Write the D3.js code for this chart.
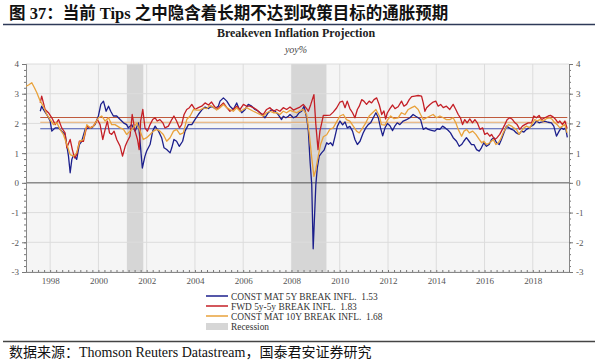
<!DOCTYPE html>
<html><head><meta charset="utf-8">
<script src="https://cdn.jsdelivr.net/npm/d3@7"></script>
<style>body{margin:0;background:#fff}svg{display:block}</style>
</head><body>
<svg id="c" width="600" height="360"></svg>
<script>
// ---- data ----
const dates5y=[1997.59,1997.65,1997.72,1997.86,1998.00,1998.07,1998.21,1998.35,1998.48,1998.62,1998.76,1998.83,1998.90,1998.97,1999.10,1999.21,1999.31,1999.45,1999.59,1999.73,1999.86,2000.00,2000.10,2000.21,2000.32,2000.42,2000.51,2000.62,2000.76,2000.90,2001.04,2001.17,2001.24,2001.38,2001.52,2001.66,2001.73,2001.82,2001.93,2002.00,2002.14,2002.25,2002.35,2002.49,2002.62,2002.72,2002.83,2002.97,2003.04,2003.13,2003.24,2003.35,2003.49,2003.59,2003.73,2003.87,2004.00,2004.14,2004.28,2004.42,2004.56,2004.69,2004.83,2004.97,2005.04,2005.18,2005.32,2005.45,2005.59,2005.73,2005.84,2005.94,2006.08,2006.21,2006.35,2006.49,2006.63,2006.77,2006.90,2007.04,2007.18,2007.32,2007.45,2007.59,2007.66,2007.77,2007.87,2007.94,2008.08,2008.21,2008.32,2008.42,2008.52,2008.63,2008.70,2008.77,2008.84,2008.90,2009.01,2009.07,2009.15,2009.25,2009.35,2009.46,2009.53,2009.62,2009.71,2009.80,2009.90,2010.01,2010.12,2010.22,2010.31,2010.42,2010.53,2010.63,2010.73,2010.84,2010.97,2011.08,2011.18,2011.28,2011.39,2011.50,2011.60,2011.69,2011.78,2011.88,2011.98,2012.08,2012.19,2012.29,2012.38,2012.49,2012.63,2012.77,2012.91,2013.04,2013.15,2013.25,2013.35,2013.46,2013.57,2013.67,2013.80,2013.94,2014.04,2014.15,2014.26,2014.37,2014.49,2014.59,2014.70,2014.84,2014.95,2015.05,2015.14,2015.25,2015.36,2015.46,2015.56,2015.67,2015.78,2015.87,2015.97,2016.08,2016.19,2016.29,2016.39,2016.50,2016.61,2016.70,2016.80,2016.91,2017.02,2017.12,2017.21,2017.32,2017.43,2017.53,2017.63,2017.74,2017.85,2017.94,2018.04,2018.15,2018.26,2018.35,2018.49,2018.63,2018.77,2018.87,2018.98,2019.09,2019.18,2019.28,2019.36,2019.43];
const vals5y=[2.41,2.58,2.47,2.30,2.08,1.74,1.85,1.85,1.74,1.63,0.90,0.34,0.79,0.95,0.79,1.29,1.40,1.80,1.85,1.85,1.96,2.25,2.64,2.75,2.41,2.58,2.41,2.25,2.25,2.13,2.02,1.96,1.85,1.96,1.74,2.02,1.35,0.50,0.90,1.07,1.29,1.74,1.91,1.74,1.52,1.18,1.12,1.01,1.18,1.46,1.40,1.23,1.40,1.74,1.96,1.96,2.13,2.30,2.45,2.55,2.50,2.58,2.50,2.58,2.75,2.86,2.75,2.58,2.47,2.69,2.47,2.36,2.47,2.64,2.58,2.47,2.41,2.30,2.19,2.36,2.47,2.41,2.30,2.13,2.24,2.19,2.24,2.30,2.19,2.24,2.36,2.41,2.58,2.19,1.74,0.73,-0.06,-2.22,-0.06,0.50,0.90,1.01,1.10,1.35,1.30,1.35,1.25,1.55,1.90,2.08,1.95,2.05,1.85,1.90,1.74,1.46,1.29,1.40,1.68,1.85,1.96,2.02,2.19,2.36,2.19,1.85,1.58,1.86,2.00,1.92,1.76,1.92,2.02,1.96,2.08,2.13,2.19,2.30,2.24,2.19,2.13,1.80,1.85,1.80,1.77,1.74,1.82,1.80,1.91,1.85,1.77,1.68,1.52,1.40,1.23,1.29,1.40,1.52,1.40,1.29,1.29,1.12,1.07,1.18,1.35,1.23,1.29,1.46,1.52,1.35,1.29,1.46,1.68,1.91,1.85,1.80,1.77,1.68,1.63,1.74,1.71,1.80,1.85,1.91,1.96,2.08,2.02,2.04,2.08,2.04,2.02,1.91,1.57,1.74,1.85,1.80,1.85,1.53];

const datesFwd=[1997.59,1997.65,1997.79,1997.93,1998.07,1998.21,1998.35,1998.48,1998.62,1998.69,1998.83,1998.92,1999.01,1999.10,1999.21,1999.38,1999.52,1999.66,1999.79,1999.96,2000.07,2000.18,2000.28,2000.37,2000.46,2000.55,2000.65,2000.76,2000.90,2001.00,2001.11,2001.20,2001.31,2001.40,2001.52,2001.62,2001.69,2001.75,2001.84,2001.93,2002.03,2002.14,2002.25,2002.35,2002.44,2002.55,2002.67,2002.76,2002.90,2003.04,2003.13,2003.24,2003.36,2003.45,2003.55,2003.66,2003.77,2003.87,2004.00,2004.14,2004.28,2004.42,2004.56,2004.69,2004.83,2004.97,2005.04,2005.18,2005.32,2005.45,2005.59,2005.73,2005.87,2006.01,2006.14,2006.28,2006.42,2006.55,2006.69,2006.83,2006.97,2007.11,2007.25,2007.39,2007.52,2007.66,2007.80,2007.94,2008.08,2008.21,2008.35,2008.49,2008.63,2008.70,2008.80,2008.93,2009.01,2009.10,2009.18,2009.25,2009.32,2009.46,2009.60,2009.73,2009.87,2010.01,2010.12,2010.22,2010.31,2010.42,2010.53,2010.63,2010.73,2010.81,2010.91,2011.00,2011.11,2011.22,2011.32,2011.42,2011.53,2011.64,2011.74,2011.83,2011.90,2011.97,2012.08,2012.19,2012.29,2012.42,2012.56,2012.66,2012.77,2012.88,2012.98,2013.11,2013.25,2013.39,2013.46,2013.53,2013.60,2013.74,2013.87,2013.98,2014.08,2014.18,2014.29,2014.42,2014.56,2014.70,2014.81,2014.91,2015.00,2015.09,2015.18,2015.28,2015.39,2015.50,2015.60,2015.70,2015.81,2015.92,2016.01,2016.11,2016.22,2016.29,2016.42,2016.52,2016.63,2016.74,2016.84,2016.94,2017.05,2017.16,2017.26,2017.35,2017.46,2017.57,2017.67,2017.81,2017.95,2018.04,2018.15,2018.26,2018.36,2018.50,2018.64,2018.73,2018.84,2018.95,2019.05,2019.12,2019.23,2019.33,2019.42];
const valsFwd=[2.69,2.92,2.47,2.36,2.19,1.96,2.13,1.85,1.68,1.18,1.46,1.12,0.84,0.95,1.40,1.40,1.91,1.85,1.91,2.13,1.96,1.46,1.80,2.08,1.68,1.63,1.74,1.46,1.23,0.90,1.23,1.40,1.57,2.30,1.74,1.46,1.12,2.08,2.47,1.85,1.74,1.96,2.13,2.19,2.08,2.13,2.02,1.85,1.91,2.13,2.25,2.08,1.85,1.96,2.30,2.47,2.53,2.64,2.47,2.53,2.58,2.69,2.62,2.72,2.55,2.50,2.58,2.69,2.53,2.41,2.47,2.58,2.47,2.64,2.58,2.58,2.53,2.47,2.36,2.30,2.47,2.53,2.41,2.47,2.41,2.53,2.47,2.55,2.45,2.50,2.55,2.64,2.50,2.41,2.64,2.97,1.96,1.12,1.75,2.00,2.27,2.27,2.28,2.38,2.52,2.72,2.75,2.53,2.75,2.50,2.36,2.19,2.47,2.58,2.80,2.75,2.64,2.75,2.69,2.80,2.86,2.62,2.30,2.42,2.15,2.35,2.50,2.62,2.50,2.56,2.75,2.58,2.64,2.80,2.90,2.92,2.94,2.92,2.69,2.41,2.53,2.64,2.72,2.75,2.58,2.64,2.53,2.58,2.47,2.64,2.47,2.30,2.19,1.96,2.13,2.02,2.15,2.02,2.13,2.02,1.80,1.85,1.63,1.68,1.57,1.63,1.46,1.52,1.63,1.80,1.96,2.13,2.19,2.13,2.02,1.96,1.80,1.91,1.96,2.02,2.02,2.25,2.19,2.27,2.13,2.19,2.25,2.27,2.22,2.13,2.02,2.08,1.96,2.08,1.83];

const dates10y=[1997.01,1997.12,1997.24,1997.35,1997.45,1997.59,1997.72,1997.86,1998.00,1998.14,1998.28,1998.41,1998.55,1998.69,1998.83,1998.97,1999.10,1999.17,1999.24,1999.38,1999.52,1999.66,1999.79,2000.00,2000.14,2000.28,2000.42,2000.55,2000.69,2000.90,2001.04,2001.17,2001.31,2001.45,2001.59,2001.73,2001.86,2002.00,2002.14,2002.28,2002.42,2002.55,2002.69,2002.83,2002.97,2003.11,2003.24,2003.38,2003.52,2003.66,2003.80,2003.94,2004.07,2004.21,2004.35,2004.49,2004.63,2004.76,2004.90,2005.04,2005.18,2005.32,2005.45,2005.59,2005.73,2005.87,2006.01,2006.14,2006.28,2006.42,2006.55,2006.69,2006.83,2006.97,2007.11,2007.25,2007.39,2007.52,2007.66,2007.80,2007.94,2008.08,2008.21,2008.35,2008.49,2008.63,2008.74,2008.84,2008.93,2009.01,2009.11,2009.21,2009.32,2009.46,2009.59,2009.73,2009.87,2010.01,2010.15,2010.28,2010.42,2010.56,2010.70,2010.81,2010.95,2011.08,2011.22,2011.36,2011.50,2011.64,2011.73,2011.87,2011.97,2012.11,2012.25,2012.42,2012.56,2012.70,2012.84,2012.98,2013.11,2013.25,2013.35,2013.46,2013.60,2013.74,2013.87,2014.01,2014.15,2014.29,2014.42,2014.56,2014.70,2014.81,2014.91,2015.05,2015.15,2015.26,2015.37,2015.51,2015.64,2015.78,2015.88,2015.97,2016.08,2016.22,2016.36,2016.47,2016.57,2016.66,2016.77,2016.88,2016.99,2017.12,2017.21,2017.32,2017.43,2017.53,2017.63,2017.74,2017.88,2017.99,2018.08,2018.18,2018.29,2018.43,2018.56,2018.70,2018.81,2018.91,2019.01,2019.12,2019.23,2019.33,2019.42];
const vals10y=[3.25,3.30,3.37,3.20,3.03,2.75,2.58,2.30,2.13,1.96,2.02,1.80,1.63,1.30,0.95,0.90,1.01,1.23,1.40,1.46,1.96,1.85,1.90,2.19,2.25,2.08,2.19,1.96,1.96,1.85,1.80,1.63,1.74,1.85,2.02,1.74,1.46,1.52,1.63,1.74,1.80,1.74,1.63,1.40,1.52,1.74,1.80,1.63,1.68,2.13,2.25,2.47,2.45,2.45,2.52,2.50,2.60,2.55,2.45,2.53,2.64,2.53,2.47,2.41,2.53,2.41,2.47,2.53,2.47,2.41,2.36,2.30,2.25,2.36,2.41,2.36,2.36,2.30,2.41,2.36,2.44,2.40,2.36,2.42,2.47,2.30,1.63,0.84,0.22,0.45,0.90,1.30,1.55,1.62,1.80,1.85,2.05,2.25,2.30,2.13,2.08,1.91,1.74,1.68,1.85,2.02,2.25,2.36,2.47,2.25,1.96,1.94,2.10,2.25,2.16,2.19,2.36,2.30,2.47,2.53,2.58,2.47,2.30,2.13,2.19,2.25,2.30,2.19,2.25,2.19,2.13,2.13,2.19,2.02,1.80,1.57,1.74,1.80,1.68,1.74,1.63,1.46,1.35,1.40,1.29,1.35,1.46,1.29,1.35,1.46,1.68,1.85,1.96,1.91,1.85,1.80,1.63,1.74,1.85,1.91,1.85,2.02,2.13,2.08,2.13,2.08,2.16,2.19,2.13,2.02,1.96,1.85,1.91,1.96,1.68];

const refLevels=[1.82,2.04,2.20];           // 5Y, 10Y, 5y5y average lines
const recessions=[[2001.18,2001.86],[2008.0,2009.45]];
const yearTicks=[1998,2000,2002,2004,2006,2008,2010,2012,2014,2016,2018];
const yTicks=[-3,-2,-1,0,1,2,3,4];
const legendLabels=["CONST MAT 5Y BREAK INFL.  1.53","FWD 5y-5y BREAK INFL.  1.83","CONST MAT 10Y BREAK INFL.  1.68","Recession"];

// ---- drawing ----
const svg=d3.select("#c");
const C={blue:"#1c1f8c",red:"#c41f26",orange:"#e9a23b",refBlue:"#4656b0",refOrange:"#e6a86a",refRed:"#bf5a3c",rec:"#d6d6d6"};
const L=26,R=569,T=64,B=272;
const x=d3.scaleLinear().domain([1997.0,2019.5]).range([L,R]);
const y=d3.scaleLinear().domain([-3,4]).range([B,T]);
const serif="'Liberation Serif','Times New Roman',serif";
const cjk="'Liberation Serif','Noto Sans CJK SC',serif";

// title
svg.append("text").attr("x",9).attr("y",19).attr("font-family",cjk).attr("font-weight","bold")
  .attr("font-size",16.5).attr("fill","#111").text("图 37：当前 Tips 之中隐含着长期不达到政策目标的通胀预期");
svg.append("line").attr("x1",3).attr("x2",595).attr("y1",24.5).attr("y2",24.5).attr("stroke","#2e3a58").attr("stroke-width",1.5);
svg.append("text").attr("x",296).attr("y",37).attr("text-anchor","middle").attr("font-family",serif)
  .attr("font-weight","bold").attr("font-size",12).attr("fill","#222").text("Breakeven Inflation Projection");
svg.append("text").attr("x",296).attr("y",53).attr("text-anchor","middle").attr("font-family",serif)
  .attr("font-style","italic").attr("font-size",10).attr("fill","#444").text("yoy%");

// plot background
svg.append("rect").attr("x",L).attr("y",T).attr("width",R-L).attr("height",B-T).attr("fill","#f5f5f5");
// recessions
svg.append("g").selectAll("rect").data(recessions).join("rect")
  .attr("x",d=>x(d[0])).attr("width",d=>x(d[1])-x(d[0])).attr("y",T).attr("height",B-T).attr("fill",C.rec);
// grid
const g=svg.append("g");
g.selectAll(".vg").data(yearTicks).join("line").attr("x1",d=>x(d)).attr("x2",d=>x(d)).attr("y1",T).attr("y2",B)
  .attr("stroke","#dcdcdc").attr("stroke-width",1);
g.selectAll(".hg").data(yTicks.filter(v=>v!==0)).join("line").attr("x1",L).attr("x2",R).attr("y1",d=>y(d)).attr("y2",d=>y(d))
  .attr("stroke","#dcdcdc").attr("stroke-width",1);
svg.append("line").attr("x1",L).attr("x2",R).attr("y1",y(0)).attr("y2",y(0)).attr("stroke","#555").attr("stroke-width",1);

// axes
const axL=d3.axisLeft(y).tickValues(d3.range(-3,4.01,0.2)).tickSize(2).tickFormat("");
const axLmaj=d3.axisLeft(y).tickValues(yTicks).tickSize(4).tickFormat(d=>d);
const axR=d3.axisRight(y).tickValues(d3.range(-3,4.01,0.2)).tickSize(2).tickFormat("");
const axRmaj=d3.axisRight(y).tickValues(yTicks).tickSize(4).tickFormat(d=>d);
const axB=d3.axisTop(x).tickValues(d3.range(1997,2019.51,0.25)).tickSize(2).tickFormat("");
const axBmaj=d3.axisBottom(x).tickValues(yearTicks).tickSize(0).tickPadding(6).tickFormat(d=>d);
function style(sel){sel.selectAll("path").attr("stroke","#888");sel.selectAll("line").attr("stroke","#777");
  sel.selectAll("text").attr("font-family",serif).attr("font-size",9).attr("fill","#555");}
svg.append("g").attr("transform",`translate(${L},0)`).call(axL).call(style);
svg.append("g").attr("transform",`translate(${L},0)`).call(axLmaj).call(style);
svg.append("g").attr("transform",`translate(${R},0)`).call(axR).call(style);
svg.append("g").attr("transform",`translate(${R},0)`).call(axRmaj).call(style);
svg.append("g").attr("transform",`translate(0,${B})`).call(axB).call(style);
svg.append("g").attr("transform",`translate(0,${B})`).call(axBmaj).call(style).select(".domain").remove();

// reference lines
const refCols=[C.refBlue,C.refOrange,C.refRed];
svg.append("g").selectAll("line").data(refLevels).join("line")
  .attr("x1",x(dates5y[0])).attr("x2",x(dates5y[dates5y.length-1])).attr("y1",d=>y(d)).attr("y2",d=>y(d))
  .attr("stroke",(d,i)=>refCols[i]).attr("stroke-width",1.1);

// series
const line=d3.line().x(d=>x(d[0])).y(d=>y(d[1]));
const series=[[dates5y,vals5y,C.blue],[datesFwd,valsFwd,C.red],[dates10y,vals10y,C.orange]];
series.forEach(([ds,vs,col])=>{
  svg.append("path").datum(ds.map((d,i)=>[d,vs[i]])).attr("d",line).attr("fill","none")
    .attr("stroke",col).attr("stroke-width",1.3).attr("stroke-linejoin","round");
});

// legend
const lg=svg.append("g");
const legCols=[C.blue,C.red,C.orange];
[0,1,2].forEach(i=>{
  const yy=296+i*10;
  lg.append("line").attr("x1",206).attr("x2",228).attr("y1",yy).attr("y2",yy).attr("stroke",legCols[i]).attr("stroke-width",1.5);
});
lg.append("rect").attr("x",206).attr("y",323).attr("width",22).attr("height",7).attr("fill",C.rec);
lg.selectAll("text").data(legendLabels).join("text").attr("x",231).attr("y",(d,i)=>299.5+i*10)
  .attr("font-family",serif).attr("font-size",9.4).attr("fill","#333").attr("xml:space","preserve").style("white-space","pre").text(d=>d);

// footer
svg.append("line").attr("x1",3).attr("x2",595).attr("y1",341.5).attr("y2",341.5).attr("stroke","#444").attr("stroke-width",1.3);
svg.append("text").attr("x",9).attr("y",357).attr("font-family",cjk).attr("font-size",14).attr("fill","#111")
  .text("数据来源：Thomson Reuters Datastream，国泰君安证券研究");
</script>
</body></html>
